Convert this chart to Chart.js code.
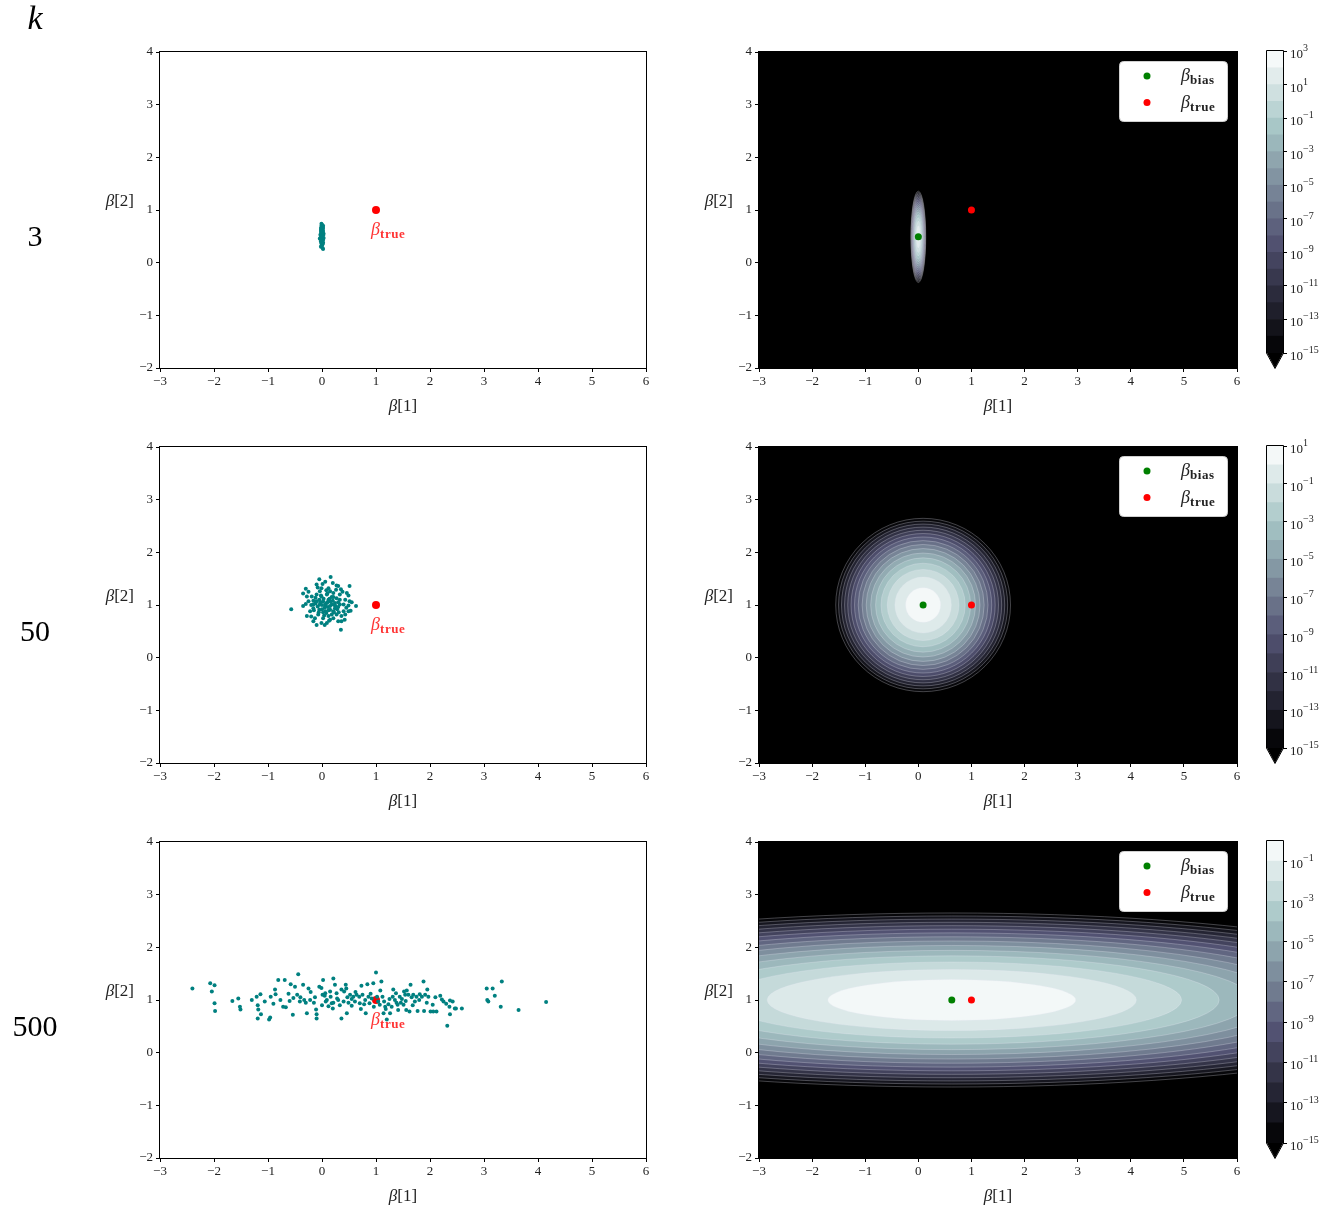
<!DOCTYPE html>
<html>
<head>
<meta charset="utf-8">
<script src="https://cdn.jsdelivr.net/npm/chart.js@4.4.1/dist/chart.umd.min.js"></script>
<style>
  html, body { margin: 0; padding: 0; background: #fff; }
  #wrap { position: relative; width: 1335px; height: 1209px; overflow: hidden; background: #fff; }
  #wrap canvas { position: absolute; left: 0; top: 0; }
</style>
</head>
<body>
<div id="wrap"></div>
<script>
// ---- data ----
const kValues = ['3', '50', '500'];
const xTicks = [-3, -2, -1, 0, 1, 2, 3, 4, 5, 6];
const yTicks = [-2, -1, 0, 1, 2, 3, 4];
const trueBeta = [1, 1];

// simulated estimates of (beta[1], beta[2]) for each k
const samplesK3 = [
  [0.00,0.50],[0.01,0.45],[-0.01,0.55],[0.02,0.60],[-0.02,0.40],[0.00,0.65],[0.01,0.35],[-0.01,0.48],
  [0.02,0.52],[-0.02,0.58],[0.00,0.42],[0.01,0.68],[-0.01,0.32],[0.03,0.47],[-0.03,0.53],[0.00,0.72],
  [0.01,0.28],[-0.01,0.62],[0.02,0.38],[-0.02,0.66],[0.00,0.56],[0.01,0.44],[-0.01,0.40],[0.02,0.70],
  [-0.02,0.30],[0.00,0.36],[0.01,0.58],[-0.01,0.70],[0.03,0.55],[-0.03,0.45],[0.00,0.61],[0.01,0.51],
  [-0.01,0.37],[0.02,0.43],[-0.02,0.49],[0.00,0.46],[0.02,0.26],[-0.01,0.74],[0.01,0.63],[0.00,0.33],
  [-0.04,0.46],[0.02,0.66],[-0.02,0.62],[0.00,0.54],[0.01,0.39]
];
const samplesK50 = [
  [-0.57,0.92],[-0.05,1.49],[0.16,1.53],[-0.30,1.31],[-0.35,1.22],[-0.28,1.16],[-0.10,1.39],[0.01,1.40],
  [0.06,1.44],[0.27,1.37],[0.30,1.36],[0.51,1.36],[0.46,1.23],[0.49,1.18],[0.51,1.07],[0.49,0.99],
  [0.63,0.98],[0.53,0.89],[0.43,0.82],[0.36,0.69],[0.35,0.53],[0.21,0.75],[0.09,0.66],[-0.01,0.66],
  [-0.16,0.69],[-0.28,0.79],[-0.22,0.88],[-0.25,1.07],[-0.16,1.08],[-0.10,1.20],[0.15,1.26],[0.26,1.29],
  [-0.04,1.01],[0.02,1.07],[0.12,1.10],[0.18,1.01],[0.24,1.04],[0.30,0.96],[0.40,0.88],[0.06,0.88],
  [0.15,0.91],[-0.07,0.82],[0.27,0.82],[-0.16,0.94],[-0.01,1.16],[0.09,1.20],[0.21,1.15],[0.33,1.10],
  [0.40,1.01],[-0.10,1.07],[0.12,0.79],[0.21,0.88],[0.02,0.75],[0.30,0.69],[0.43,1.10],[-0.04,1.26],
  [0.15,0.72],[-0.13,0.75],[-0.16,1.01],[0.06,0.98],[0.24,0.94],[0.18,0.82],[0.09,1.04],[-0.05,0.91],
  [0.33,1.20],[0.36,0.79],[-0.19,1.16],[0.49,0.88],[-0.01,1.32],[0.12,1.32],[0.21,1.23],[0.33,1.01],
  [0.27,1.13],[0.00,1.00],[0.05,0.95],[0.10,1.05],[-0.05,1.10],[0.15,0.98],[0.03,1.12],[-0.08,0.97],
  [0.12,0.90],[0.20,1.08],[-0.12,1.03],[0.08,0.85],[0.00,0.92],[0.18,1.15],[-0.02,1.18],[0.25,0.98],
  [0.10,1.22],[-0.15,0.90],[0.04,0.80],[0.22,0.86],[0.30,1.05],[-0.20,1.00],[0.14,1.12],[0.06,1.02],
  [-0.06,0.86],[0.28,0.92],[0.45,0.95],[0.55,1.05],[-0.35,0.98],[-0.30,1.02],[0.38,1.25],[-0.25,1.25],
  [0.05,0.62],[-0.10,0.62],[0.08,1.28],[-0.08,1.33],[0.20,1.42],[0.35,1.30],[0.42,0.72],[-0.20,0.78],
  [0.11,0.96],[-0.03,1.05],[0.16,1.06],[0.23,1.00],[0.02,0.86],[-0.12,1.14],[0.31,0.86],[0.13,0.70]
];
const samplesK500 = [
  [-2.40,1.22],[-2.07,1.32],[-1.99,1.28],[-2.04,1.16],[-1.99,0.94],[-1.98,0.79],[-1.66,0.98],[-1.55,1.03],
  [-1.52,0.87],[-1.51,0.82],[-1.21,1.06],[-1.14,1.11],[-1.19,0.90],[-1.18,0.82],[-1.13,0.73],[-1.19,0.65],
  [-1.06,0.97],[-0.95,1.06],[-0.96,0.67],[-0.98,0.63],[-0.87,1.20],[-0.81,1.38],[-0.69,1.38],[-0.86,1.11],
  [-0.77,1.00],[-0.72,0.87],[-0.67,0.86],[-0.58,1.30],[-0.50,1.25],[-0.53,1.04],[-0.54,0.72],[-0.44,1.49],
  [-0.46,1.10],[-0.41,0.97],[-0.35,1.29],[-0.33,1.00],[-0.28,0.75],[-0.25,1.22],[-0.21,1.15],[-0.22,1.00],
  [-0.13,1.05],[-0.11,0.82],[-0.10,0.65],[-0.10,0.73],[-0.05,1.25],[-0.01,1.23],[0.02,1.38],[0.01,1.10],
  [0.06,1.13],[0.07,0.97],[0.09,1.00],[0.15,1.16],[0.16,1.06],[0.18,0.94],[0.21,1.41],[0.21,0.95],
  [0.24,1.29],[0.27,1.13],[0.28,1.03],[0.36,1.20],[0.36,0.65],[0.40,0.97],[0.41,1.16],[0.44,1.29],
  [0.46,0.75],[0.47,1.05],[0.49,0.95],[0.52,1.10],[0.55,0.89],[0.58,1.06],[0.61,0.97],[0.64,1.10],
  [0.69,1.06],[0.70,0.94],[0.73,1.27],[0.75,1.10],[0.78,0.92],[0.81,0.75],[0.84,1.30],[0.86,1.06],
  [0.88,0.94],[0.92,1.03],[0.95,1.32],[0.96,0.87],[1.00,1.52],[1.02,1.06],[1.04,0.97],[1.07,0.91],
  [1.10,1.35],[1.12,1.06],[1.14,0.75],[1.15,0.97],[1.17,0.87],[1.20,0.63],[1.23,0.92],[1.26,0.75],
  [1.29,0.87],[1.31,1.06],[1.32,1.20],[1.35,1.00],[1.37,1.13],[1.40,0.91],[1.41,0.81],[1.44,1.06],
  [1.46,0.95],[1.51,0.91],[1.52,1.16],[1.54,1.10],[1.56,0.81],[1.57,1.18],[1.60,1.10],[1.62,0.78],
  [1.64,1.29],[1.66,1.05],[1.69,1.10],[1.72,0.97],[1.75,1.06],[1.77,0.79],[1.81,1.11],[1.85,1.06],
  [1.88,1.35],[1.89,0.79],[1.91,1.10],[1.94,0.95],[1.97,1.06],[2.01,0.78],[2.05,0.91],[2.06,0.78],
  [2.12,0.78],[2.19,1.08],[2.22,1.01],[2.25,0.97],[2.32,0.51],[2.36,0.87],[2.37,0.99],[2.37,0.73],
  [2.42,0.97],[2.46,0.84],[2.48,0.84],[2.59,0.84],[3.05,1.22],[3.06,1.00],[3.08,0.97],[3.16,1.22],
  [3.20,1.08],[3.31,0.87],[3.33,1.35],[3.64,0.81],[4.15,0.96],
  [-0.30,0.95],[0.30,1.00],[0.55,1.02],[0.80,1.00],[1.25,1.02],[1.55,0.98],[-0.60,0.98],[0.12,0.88],
  [-0.40,1.05],[-0.15,0.95],[0.05,1.08],[0.33,0.90],[0.62,1.15],[0.90,1.12],[1.08,1.18],[1.18,0.83],
  [1.38,0.95],[1.48,1.02],[1.68,0.90],[1.80,1.00],[2.10,1.05],[0.20,0.84],[-0.62,1.12],[-0.90,0.93],
  [0.45,1.22],[0.72,0.83],[1.95,1.20],[2.30,0.93],[-1.30,1.00],[0.00,0.90]
];
const samplesByK = [samplesK3, samplesK50, samplesK500];

// biased estimator: centre and spread of its density for each k
const biasCentre = [[0.0, 0.49], [0.09, 1.0], [0.63, 1.0]];
const spreadX = [0.0158, 0.194, 1.2];
const spreadY = [0.098, 0.194, 0.2];
// contour levels are 10^e for e in [min, max]
const levelExpMin = [-15, -15, -15];
const levelExpMax = [3, 1, 0];
const cbarTicks = [
  [-15, -13, -11, -9, -7, -5, -3, -1, 1, 3],
  [-15, -13, -11, -9, -7, -5, -3, -1, 1],
  [-15, -13, -11, -9, -7, -5, -3, -1]
];

// ---- layout ----
const W = 1335, H = 1209;
const rowTop = [52, 447, 842];
const rowBottom = [368, 763, 1158];
const leftPanel = [160, 646];
const rightPanel = [759, 1237];
const cbarX = [1267, 1283];
const Y_AXIS_W = 40, X_AXIS_H = 30, CB_AXIS_W = 48;
const SERIF = '"Liberation Serif", "DejaVu Serif", serif';
const tickFont = { family: SERIF, size: 13 };

const wrap = document.getElementById('wrap');
function newCanvas() {
  const c = document.createElement('canvas');
  c.width = W; c.height = H;
  c.style.width = W + 'px'; c.style.height = H + 'px';
  wrap.appendChild(c);
  return c.getContext('2d');
}

function fmtTick(v) { return v < 0 ? '\u2212' + Math.abs(v) : String(v); }

// matplotlib "bone" colormap
function bone(t) {
  t = Math.min(1, Math.max(0, t));
  const seg = pts => {
    for (let i = 1; i < pts.length; i++) {
      if (t <= pts[i][0]) {
        const [x0, y0] = pts[i - 1], [x1, y1] = pts[i];
        return y0 + (y1 - y0) * (t - x0) / (x1 - x0);
      }
    }
    return pts[pts.length - 1][1];
  };
  const r = seg([[0, 0], [0.746032, 0.652778], [1, 1]]);
  const g = seg([[0, 0], [0.365079, 0.319444], [0.746032, 0.777778], [1, 1]]);
  const b = seg([[0, 0], [0.365079, 0.444444], [1, 1]]);
  return `rgb(${Math.round(r * 255)},${Math.round(g * 255)},${Math.round(b * 255)})`;
}
function bandColour(i, n) { return bone((i + 0.5) / n); }

// text made of runs with their own font and vertical offset
function drawRich(ctx, parts, x, y, align) {
  let w = 0;
  parts.forEach(p => {
    ctx.font = p.font;
    ctx.letterSpacing = p.spacing || '0px';
    p.w = ctx.measureText(p.text).width;
    w += p.w;
  });
  let cx = align === 'center' ? x - w / 2 : align === 'right' ? x - w : x;
  ctx.textAlign = 'left';
  ctx.textBaseline = 'alphabetic';
  parts.forEach(p => {
    ctx.font = p.font;
    ctx.letterSpacing = p.spacing || '0px';
    ctx.fillStyle = p.color || '#222';
    ctx.fillText(p.text, cx, y + (p.dy || 0));
    cx += p.w;
  });
  ctx.letterSpacing = '0px';
}
const betaParts = (sub, color) => [
  { text: '\u03b2', font: 'italic 18px ' + SERIF, color },
  { text: sub, font: 'bold 13px ' + SERIF, dy: 3, color, spacing: '0.6px' }
];

function axesScales() {
  return {
    x: {
      type: 'linear', min: -3, max: 6,
      afterBuildTicks: s => { s.ticks = xTicks.map(v => ({ value: v })); },
      afterFit: s => { s.height = X_AXIS_H; },
      ticks: { callback: fmtTick, font: tickFont, color: '#222', padding: 2, maxRotation: 0, autoSkip: false },
      grid: { drawOnChartArea: false, drawTicks: true, tickLength: 4, color: '#000', lineWidth: 1 },
      border: { display: false }
    },
    y: {
      type: 'linear', min: -2, max: 4,
      afterBuildTicks: s => { s.ticks = yTicks.map(v => ({ value: v })); },
      afterFit: s => { s.width = Y_AXIS_W; },
      ticks: { callback: fmtTick, font: tickFont, color: '#222', padding: 3, autoSkip: false },
      grid: { drawOnChartArea: false, drawTicks: true, tickLength: 4, color: '#000', lineWidth: 1 },
      border: { display: false }
    }
  };
}

// frame and axis titles shared by every panel
const framePlugin = {
  id: 'frame',
  afterDraw(chart) {
    const { ctx, chartArea: a } = chart;
    ctx.save();
    ctx.strokeStyle = '#000';
    ctx.lineWidth = 1;
    ctx.strokeRect(Math.round(a.left) - 0.5, Math.round(a.top) - 0.5,
      Math.round(a.right - a.left) + 1, Math.round(a.bottom - a.top) + 1);
    const serif17 = '17px ' + SERIF, it17 = 'italic 17px ' + SERIF;
    drawRich(ctx, [{ text: '\u03b2', font: it17 }, { text: '[1]', font: serif17 }],
      (a.left + a.right) / 2, a.bottom + 43, 'center');
    drawRich(ctx, [{ text: '\u03b2', font: it17 }, { text: '[2]', font: serif17 }],
      a.left - 26, (a.top + a.bottom) / 2 - 4, 'right');
    ctx.restore();
  }
};

function baseOptions(left, right, row) {
  return {
    responsive: false,
    maintainAspectRatio: false,
    animation: false,
    events: [],
    layout: {
      padding: { left: left - Y_AXIS_W, right: W - right, top: rowTop[row], bottom: H - rowBottom[row] - X_AXIS_H }
    },
    plugins: { legend: { display: false }, tooltip: { enabled: false } },
    scales: axesScales()
  };
}

// ---- row labels ----
const rowLabelPlugin = {
  id: 'rowLabels',
  afterDraw(chart) {
    const ctx = chart.ctx;
    ctx.save();
    ctx.fillStyle = '#000';
    ctx.textAlign = 'center';
    ctx.textBaseline = 'alphabetic';
    ctx.font = 'italic 34px ' + SERIF;
    ctx.fillText('k', 35, 29);
    ctx.font = '30px ' + SERIF;
    const base = [246, 641, 1036];
    kValues.forEach((k, i) => ctx.fillText(k, 35, base[i]));
    ctx.restore();
  }
};

// ---- left column: sampled estimates ----
for (let r = 0; r < 3; r++) {
  const labelPlugin = {
    id: 'trueLabel',
    afterDatasetsDraw(chart) {
      const { ctx, scales: { x, y } } = chart;
      ctx.save();
      const px = x.getPixelForValue(trueBeta[0]) - 5;
      const py = y.getPixelForValue(trueBeta[1]) + 25;
      drawRich(ctx, betaParts('true', 'rgba(255,0,0,0.8)'), px, py, 'left');
      ctx.restore();
    }
  };
  new Chart(newCanvas(), {
    type: 'scatter',
    data: {
      datasets: [
        {
          label: 'estimates',
          data: samplesByK[r].map(p => ({ x: p[0], y: p[1] })),
          backgroundColor: '#008080', borderWidth: 0, pointRadius: 2
        },
        {
          label: '\u03b2_true',
          data: [{ x: trueBeta[0], y: trueBeta[1] }],
          backgroundColor: '#ff0000', borderWidth: 0, pointRadius: 4
        }
      ]
    },
    options: baseOptions(leftPanel[0], leftPanel[1], r),
    plugins: r === 0 ? [framePlugin, labelPlugin, rowLabelPlugin] : [framePlugin, labelPlugin]
  });
}

// ---- right column: density of the biased estimator ----
for (let r = 0; r < 3; r++) {
  const p = r;
  const densityPlugin = {
    id: 'density',
    beforeDatasetsDraw(chart) {
      const { ctx, chartArea: a, scales: { x, y } } = chart;
      ctx.save();
      ctx.beginPath();
      ctx.rect(a.left, a.top, a.right - a.left, a.bottom - a.top);
      ctx.clip();
      ctx.fillStyle = bone(0);
      ctx.fillRect(a.left, a.top, a.right - a.left, a.bottom - a.top);
      const [mx, my] = biasCentre[p];
      const sx = spreadX[p], sy = spreadY[p];
      const peak = 1 / (2 * Math.PI * sx * sy);
      const lo = levelExpMin[p], hi = levelExpMax[p], n = hi - lo;
      const cx = x.getPixelForValue(mx), cy = y.getPixelForValue(my);
      for (let e = lo; e < hi; e++) {
        const d2 = 2 * Math.log(peak / Math.pow(10, e));
        if (d2 <= 0) break;
        const d = Math.sqrt(d2);
        const rx = Math.abs(x.getPixelForValue(mx + sx * d) - cx);
        const ry = Math.abs(y.getPixelForValue(my + sy * d) - cy);
        ctx.beginPath();
        ctx.ellipse(cx, cy, rx, ry, 0, 0, 2 * Math.PI);
        ctx.fillStyle = bandColour(e - lo, n);
        ctx.fill();
        ctx.strokeStyle = 'rgba(235,235,245,0.4)';
        ctx.lineWidth = 0.7;
        ctx.stroke();
      }
      ctx.restore();
    }
  };
  const legendPlugin = {
    id: 'betaLegend',
    afterDraw(chart) {
      const { ctx, chartArea: a } = chart;
      ctx.save();
      const bx = a.right - 118, by = a.top + 9, bw = 108, bh = 60;
      ctx.beginPath();
      ctx.roundRect(bx + 0.5, by + 0.5, bw, bh, 4);
      ctx.fillStyle = '#fff';
      ctx.fill();
      ctx.strokeStyle = '#d0d0d0';
      ctx.lineWidth = 1;
      ctx.stroke();
      chart.data.datasets.forEach((ds, i) => {
        const my = a.top + 24 + i * 26.5;
        ctx.beginPath();
        ctx.arc(a.right - 90, my, 3.5, 0, 2 * Math.PI);
        ctx.fillStyle = ds.backgroundColor;
        ctx.fill();
        const sub = ds.label.split('_')[1];
        drawRich(ctx, betaParts(sub, '#222'), a.right - 56, my + 5, 'left');
      });
      ctx.restore();
    }
  };
  new Chart(newCanvas(), {
    type: 'scatter',
    data: {
      datasets: [
        {
          label: '\u03b2_bias',
          data: [{ x: biasCentre[p][0], y: biasCentre[p][1] }],
          backgroundColor: '#008000', borderWidth: 0, pointRadius: 3.5
        },
        {
          label: '\u03b2_true',
          data: [{ x: trueBeta[0], y: trueBeta[1] }],
          backgroundColor: '#ff0000', borderWidth: 0, pointRadius: 3.5
        }
      ]
    },
    options: baseOptions(rightPanel[0], rightPanel[1], r),
    plugins: [densityPlugin, framePlugin, legendPlugin]
  });
}

// ---- colour bars ----
for (let r = 0; r < 3; r++) {
  const lo = levelExpMin[r], hi = levelExpMax[r], n = hi - lo;
  const bands = [];
  for (let e = lo; e < hi; e++) {
    bands.push({
      label: '10^' + e,
      data: [[Math.pow(10, e), Math.pow(10, e + 1)]],
      backgroundColor: bandColour(e - lo, n),
      borderWidth: 0,
      grouped: false,
      barPercentage: 1,
      categoryPercentage: 1
    });
  }
  const top = rowTop[r] - 1, bottom = rowTop[r] + 301;
  const cbarPlugin = {
    id: 'cbarExtras',
    afterDraw(chart) {
      const { ctx, chartArea: a, scales: { y } } = chart;
      ctx.save();
      const L = Math.round(a.left), R = Math.round(a.right), B = Math.round(a.bottom), T = Math.round(a.top);
      // extension for values below the lowest level
      ctx.beginPath();
      ctx.moveTo(L, B);
      ctx.lineTo(R, B);
      ctx.lineTo((L + R) / 2, rowBottom[r]);
      ctx.closePath();
      ctx.fillStyle = bone(0);
      ctx.fill();
      // outline
      ctx.beginPath();
      ctx.moveTo(L - 0.5, T - 0.5);
      ctx.lineTo(R + 0.5, T - 0.5);
      ctx.lineTo(R + 0.5, B);
      ctx.lineTo((L + R) / 2, rowBottom[r] + 0.5);
      ctx.lineTo(L - 0.5, B);
      ctx.closePath();
      ctx.strokeStyle = '#000';
      ctx.lineWidth = 1;
      ctx.stroke();
      // tick labels 10^e
      cbarTicks[r].forEach(e => {
        const ty = y.getPixelForValue(Math.pow(10, e));
        const exp = e < 0 ? '\u2212' + Math.abs(e) : String(e);
        drawRich(ctx, [
          { text: '10', font: '13px ' + SERIF, dy: 7, color: '#222' },
          { text: exp, font: '10px ' + SERIF, dy: 0, color: '#222' }
        ], R + 7, ty, 'left');
      });
      ctx.restore();
    }
  };
  new Chart(newCanvas(), {
    type: 'bar',
    data: { labels: ['density'], datasets: bands },
    options: {
      responsive: false,
      maintainAspectRatio: false,
      animation: false,
      events: [],
      layout: { padding: { left: cbarX[0], right: W - cbarX[1] - CB_AXIS_W, top: top, bottom: H - bottom } },
      plugins: { legend: { display: false }, tooltip: { enabled: false } },
      scales: {
        x: { display: false },
        y: {
          type: 'logarithmic',
          position: 'right',
          min: Math.pow(10, lo),
          max: Math.pow(10, hi),
          afterBuildTicks: s => { s.ticks = cbarTicks[r].map(e => ({ value: Math.pow(10, e) })); },
          afterFit: s => { s.width = CB_AXIS_W; },
          ticks: { callback: () => '', autoSkip: false },
          grid: { drawOnChartArea: false, drawTicks: true, tickLength: 4, color: '#000', lineWidth: 1 },
          border: { display: false }
        }
      }
    },
    plugins: [cbarPlugin]
  });
}
</script>
</body>
</html>
